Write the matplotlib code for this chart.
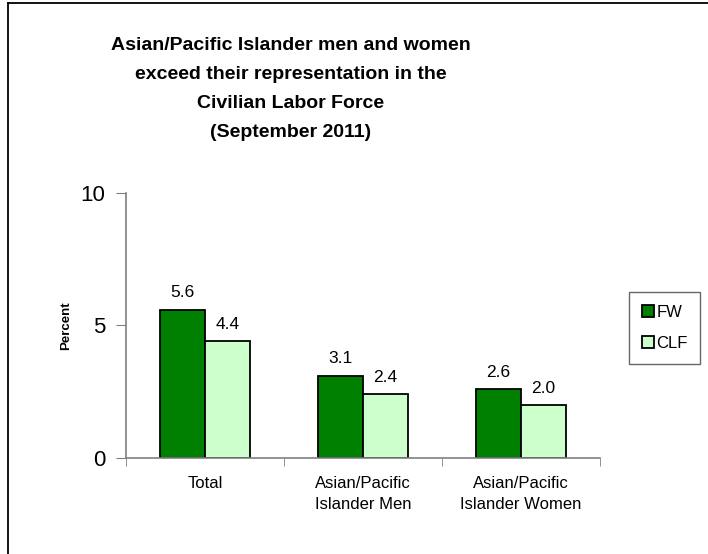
import matplotlib.pyplot as plt
from matplotlib.lines import Line2D
import numpy as np

categories = ["Total", "Asian/Pacific\nIslander Men", "Asian/Pacific\nIslander Women"]
fw = [5.6, 3.1, 2.6]
clf = [4.4, 2.4, 2.0]
fw_labels = ["5.6", "3.1", "2.6"]
clf_labels = ["4.4", "2.4", "2.0"]

plt.rcParams['font.family'] = ['Liberation Sans', 'DejaVu Sans']

fig = plt.figure(figsize=(7.08, 5.54), dpi=100)
ax = fig.add_axes([0.178, 0.173, 0.669, 0.479])

x = np.arange(len(categories))
w = 0.285
axis_col = '#808080'

ax.bar(x - w / 2, fw, w, color='#008000', edgecolor='black', linewidth=1.3, label='FW')
ax.bar(x + w / 2, clf, w, color='#ccffcc', edgecolor='black', linewidth=1.3, label='CLF')

for i in range(len(categories)):
    ax.text(x[i] - w / 2, fw[i] + 0.36, fw_labels[i], ha='center', va='bottom', fontsize=12.5)
    ax.text(x[i] + w / 2, clf[i] + 0.36, clf_labels[i], ha='center', va='bottom', fontsize=12.5)

ax.set_xlim(-0.5, 2.5)
ax.set_ylim(0, 10)
ax.set_yticks([0, 5, 10])
ax.tick_params(axis='y', labelsize=16, length=7, color=axis_col, pad=8)
ax.set_xticks(x)
ax.set_xticklabels(categories, fontsize=12, linespacing=1.45)
ax.tick_params(axis='x', length=0, pad=13)
ax.set_xticks([-0.5, 0.5, 1.5, 2.5], minor=True)
ax.tick_params(axis='x', which='minor', length=6, color=axis_col, direction='out')

for s in ['top', 'right']:
    ax.spines[s].set_visible(False)
for s in ['left', 'bottom']:
    ax.spines[s].set_color(axis_col)
    ax.spines[s].set_linewidth(1.2)

ax.set_ylabel('Percent', fontsize=9.5, fontweight='bold', labelpad=6)

leg = fig.legend(loc='upper left', bbox_to_anchor=(629 / 708, 1 - 292 / 554),
                 fontsize=12, frameon=True, fancybox=False, handlelength=0.75,
                 handleheight=0.75, handletextpad=0.15, labelspacing=1.0,
                 borderpad=0.75, borderaxespad=0)
leg.get_frame().set_edgecolor('#404040')
leg.get_frame().set_linewidth(1.0)

fig.text(291 / 708, 1 - 37 / 554,
         "Asian/Pacific Islander men and women\nexceed their representation in the\n"
         "Civilian Labor Force\n(September 2011)",
         ha='center', va='top', fontsize=14, fontweight='bold', linespacing=1.93)

fig.add_artist(Line2D([8 / 708, 8 / 708], [0, 1 - 3 / 554], color='black', linewidth=1.3))
fig.add_artist(Line2D([8 / 708, 1], [1 - 3 / 554, 1 - 3 / 554], color='black', linewidth=1.3))

fig.savefig('out.png', dpi=100)
